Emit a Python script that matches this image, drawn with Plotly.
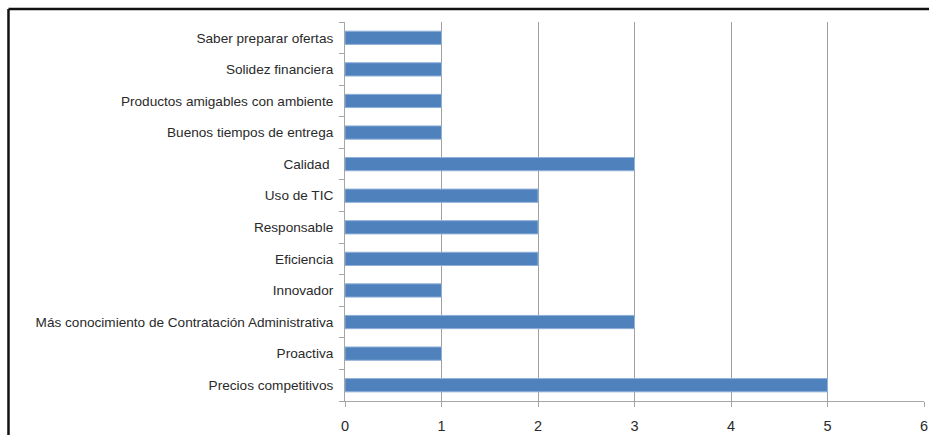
import plotly.graph_objects as go

# Categories listed bottom to top, as they stack on the y axis
categorias = [
    "Precios competitivos",
    "Proactiva",
    "Más conocimiento de Contratación Administrativa",
    "Innovador",
    "Eficiencia",
    "Responsable",
    "Uso de TIC",
    "Calidad ",
    "Buenos tiempos de entrega",
    "Productos amigables con ambiente",
    "Solidez financiera",
    "Saber preparar ofertas",
]
valores = [5, 1, 3, 1, 2, 2, 2, 3, 1, 1, 1, 1]
ticks_x = [0, 1, 2, 3, 4, 5, 6]

FONT = "Liberation Sans, Arial, sans-serif"

fig = go.Figure(
    go.Bar(
        x=valores,
        y=categorias,
        orientation="h",
        width=0.42,
        marker=dict(color="#4F81BD", line=dict(color="#8FB0D8", width=1)),
        hoverinfo="x+y",
    )
)

fig.update_layout(
    width=929,
    height=435,
    margin=dict(l=345, r=5, t=22, b=34),
    paper_bgcolor="white",
    plot_bgcolor="white",
    showlegend=False,
    font=dict(family=FONT, size=13.6, color="#2a2a2a"),
    xaxis=dict(
        range=[0, 6],
        tickvals=ticks_x,
        showgrid=True,
        gridcolor="#a0a0a0",
        gridwidth=1,
        zeroline=False,
        showline=True,
        linecolor="#a6a6a6",
        ticks="outside",
        ticklen=5,
        tickcolor="#a6a6a6",
        ticklabelstandoff=7,
        automargin=False,
        tickfont=dict(family=FONT, size=14.5, color="#2a2a2a"),
        fixedrange=True,
    ),
    yaxis=dict(
        type="category",
        categoryorder="array",
        categoryarray=categorias,
        showgrid=False,
        showline=True,
        linecolor="#a6a6a6",
        ticks="outside",
        tickson="boundaries",
        ticklen=5,
        tickcolor="#a6a6a6",
        ticklabelstandoff=8,
        tickfont=dict(family=FONT, size=13.6, color="#2a2a2a"),
        fixedrange=True,
    ),
    shapes=[
        # outer frame: left and top edges
        dict(type="line", xref="paper", yref="paper",
             x0=-0.5812, x1=-0.5812, y0=1.034, y1=-0.2,
             line=dict(color="#111111", width=2.5)),
        dict(type="line", xref="paper", yref="paper",
             x0=-0.5812, x1=1.02, y0=1.034, y1=1.034,
             line=dict(color="#111111", width=2.5)),
    ],
)

fig.write_html("out.html")
